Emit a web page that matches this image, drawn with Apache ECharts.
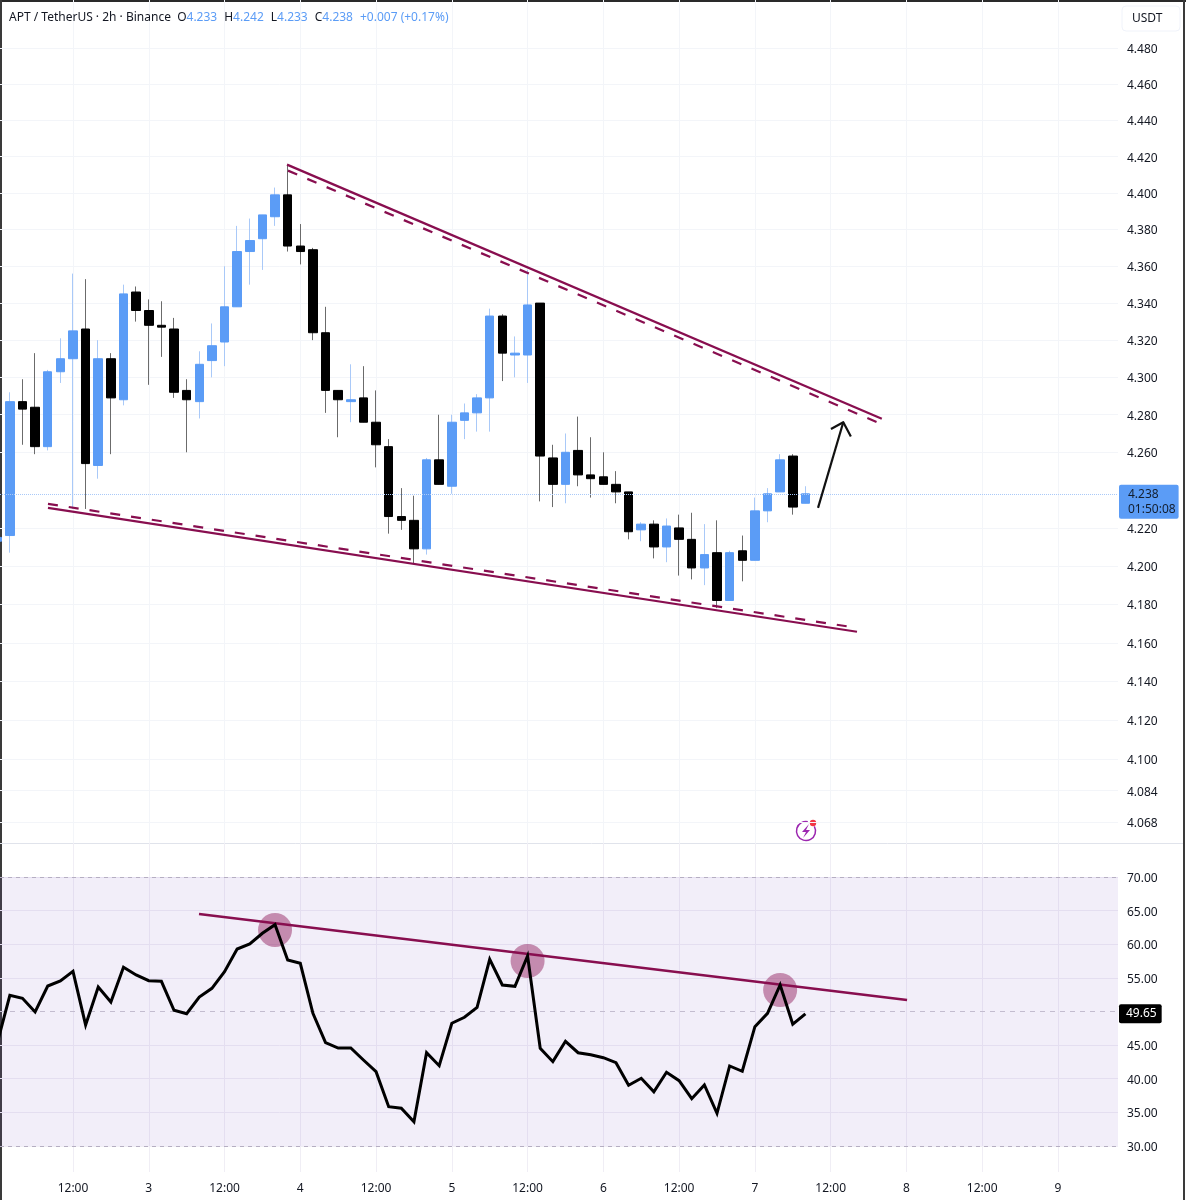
<!DOCTYPE html>
<html>
<head>
<meta charset="utf-8">
<title>APT / TetherUS 2h</title>
<style>
  html, body { margin: 0; padding: 0; background: #fff; }
  #chart { width: 1186px; height: 1200px; }
</style>
</head>
<body>
<div id="chart"></div>
<script src="https://cdn.jsdelivr.net/npm/echarts@6/dist/echarts.min.js"></script>
<script>
// one candle every 2 hours, hour 0 is the partly hidden candle on the left edge
const candleOpen = [4.213,4.216,4.287,4.284,4.263,4.303,4.310,4.326,4.253,4.310,4.288,4.346,4.336,4.328,4.326,4.293,4.287,4.309,4.319,4.338,4.368,4.375,4.387,4.399,4.371,4.369,4.324,4.293,4.287,4.289,4.276,4.263,4.226,4.224,4.209,4.256,4.242,4.277,4.281,4.289,4.333,4.312,4.312,4.340,4.257,4.243,4.261,4.248,4.247,4.243,4.239,4.219,4.222,4.210,4.220,4.214,4.199,4.207,4.182,4.208,4.203,4.229,4.239,4.258,4.233];
const candleClose = [4.215,4.287,4.283,4.263,4.303,4.310,4.325,4.254,4.310,4.289,4.345,4.336,4.328,4.327,4.292,4.288,4.307,4.317,4.338,4.368,4.374,4.388,4.399,4.371,4.368,4.324,4.293,4.288,4.288,4.276,4.264,4.226,4.224,4.209,4.256,4.243,4.276,4.281,4.289,4.333,4.313,4.313,4.339,4.258,4.243,4.260,4.248,4.246,4.243,4.239,4.218,4.222,4.210,4.221,4.214,4.199,4.206,4.182,4.207,4.203,4.229,4.238,4.256,4.231,4.238];
const candleLow = [4.208,4.207,4.264,4.259,4.261,4.297,4.230,4.230,4.246,4.259,4.285,4.330,4.296,4.311,4.289,4.260,4.278,4.300,4.306,4.338,4.350,4.358,4.382,4.368,4.361,4.320,4.281,4.268,4.276,4.276,4.252,4.217,4.219,4.201,4.206,4.243,4.238,4.267,4.271,4.271,4.298,4.300,4.297,4.234,4.231,4.233,4.242,4.236,4.243,4.233,4.214,4.213,4.204,4.202,4.195,4.193,4.190,4.178,4.182,4.192,4.203,4.223,4.239,4.227,4.233];
const candleHigh = [4.220,4.292,4.299,4.313,4.304,4.321,4.356,4.353,4.320,4.313,4.350,4.349,4.342,4.341,4.332,4.299,4.314,4.329,4.360,4.382,4.386,4.388,4.403,4.415,4.383,4.370,4.338,4.293,4.307,4.306,4.293,4.267,4.241,4.237,4.257,4.280,4.280,4.286,4.291,4.337,4.334,4.322,4.358,4.340,4.264,4.270,4.279,4.268,4.260,4.250,4.239,4.223,4.224,4.225,4.227,4.228,4.222,4.224,4.208,4.216,4.236,4.241,4.259,4.259,4.242];
const rsiValues = [45.3,52.41,51.96,49.93,53.79,54.54,55.98,48.0,53.64,51.41,56.57,55.43,54.58,54.49,50.18,49.67,52.16,53.45,55.92,59.29,60.04,61.63,62.91,57.66,57.17,49.73,45.36,44.57,44.57,42.79,41.05,35.84,35.61,33.61,43.87,41.94,48.25,49.14,50.62,57.76,53.94,53.75,58.25,44.53,42.54,45.57,43.87,43.58,43.13,42.39,39.03,40.07,38.07,40.96,39.71,37.03,39.07,34.86,41.9,41.11,47.74,49.73,53.94,48.1,49.65];

const priceTicks = [4.48,4.46,4.44,4.42,4.40,4.38,4.36,4.34,4.32,4.30,4.28,4.26,4.22,4.20,4.18,4.16,4.14,4.12,4.10,4.084,4.068];
const rsiTicks = [70,65,60,55,45,40,35,30];
const timeTicks = [12,24,36,48,60,72,84,96,108,120,132,144,156,168];
const timeLabels = ['12:00','3','12:00','4','12:00','5','12:00','6','12:00','7','12:00','8','12:00','9'];

// drawings, as [hour, price] or [hour, rsi]
const upperSolid = [[45.9,4.4156],[140.1,4.2778]];
const upperDashed = [[46.05,4.4123],[139.97,4.2751]];
const lowerSolid = [[8.04,4.2306],[136.17,4.1657]];
const lowerDashed = [[8.04,4.2327],[135.06,4.1683]];
const arrowShaft = [[130.0,4.2306],[134.0,4.2760]];
const arrowHead = [[132.05,4.2724],[134.0,4.2760],[135.2,4.2684]];
const rsiTrend = [[31.96,64.5],[144.1,51.71]];
const rsiCircles = [[44,62.12],[84,57.51],[124,53.2]];

const lastPrice = 4.238;
const lastRsi = 49.65;

const BLUE = '#5b9cf6';
const PLUM = '#880e4f';
const FONT = '"Noto Sans", sans-serif';

const hourOf = i => i * 2;
const upColor = i => candleClose[i] >= candleOpen[i];

function splitCandles(up, wickOnly) {
  const out = [];
  candleOpen.forEach((o, i) => {
    if (upColor(i) !== up) return;
    const c = candleClose[i];
    const low = wickOnly ? candleLow[i] : Math.min(o, c);
    const high = wickOnly ? candleHigh[i] : Math.max(o, c);
    out.push([hourOf(i), o, c, low, high]);
  });
  return out;
}

function candleSeries(name, up, wickOnly, color, extra) {
  return Object.assign({
    name: name,
    type: 'candlestick',
    xAxisIndex: 0,
    yAxisIndex: 0,
    barWidth: wickOnly ? 1 : 9,
    encode: { x: 0, y: [1, 2, 3, 4] },
    z: wickOnly ? 2 : 3,
    silent: true,
    itemStyle: {
      color: color, color0: color,
      borderColor: color, borderColor0: color,
      borderWidth: 1
    },
    data: splitCandles(up, wickOnly)
  }, extra || {});
}

function drawLine(points, color, width, xAxis, type, z) {
  return {
    type: 'line',
    xAxisIndex: xAxis,
    yAxisIndex: xAxis,
    data: points,
    symbol: 'none',
    silent: true,
    z: z || 5,
    lineStyle: { color: color, width: width, type: type || 'solid', cap: 'butt', join: 'round' }
  };
}

// tick label sits a little under its gridline, as on the reference
const tickRich = { t: { color: '#131722', fontSize: 12, fontFamily: FONT, padding: [3, 0, 0, 0] } };

const chart = echarts.init(document.getElementById('chart'));

chart.setOption({
  animation: false,
  backgroundColor: '#fff',
  textStyle: { fontFamily: FONT },
  title: {
    left: 9, top: 12, padding: 0,
    text: '{k|APT / TetherUS · 2h · Binance  O}{v|4.233}{g| }{k|H}{v|4.242}{g| }{k|L}{v|4.233}{g| }{k|C}{v|4.238}{g| }{v|+0.007 (+0.17%)}',
    textStyle: {
      fontFamily: FONT, fontWeight: 'normal', fontSize: 12,
      rich: {
        k: { color: '#131722', fontSize: 12, fontFamily: FONT },
        v: { color: BLUE, fontSize: 12, fontFamily: FONT },
        g: { width: 7, fontSize: 12 }
      }
    }
  },
  grid: [
    { left: 0, width: 1118, top: 0, height: 843 },
    { left: 0, width: 1118, top: 843, height: 329 }
  ],
  xAxis: [0, 1].map(i => ({
    type: 'value',
    gridIndex: i,
    min: 0.44,
    max: 177.51,
    axisLine: { show: false },
    axisTick: { show: false, customValues: timeTicks },
    splitLine: { show: true, lineStyle: { color: i === 0 ? '#f3f5f9' : '#f0eef5', width: 1 } },
    axisLabel: {
      show: i === 1,
      customValues: timeTicks,
      margin: 11,
      color: '#131722',
      fontSize: 12,
      fontFamily: FONT,
      formatter: v => timeLabels[timeTicks.indexOf(v)] || ''
    }
  })),
  yAxis: [
    {
      type: 'log',
      gridIndex: 0,
      position: 'right',
      min: 4.0574,
      max: 4.5072,
      axisLine: { show: false },
      axisTick: { show: false, customValues: priceTicks },
      splitLine: { show: true, lineStyle: { color: '#f3f5f9', width: 1 } },
      axisLabel: {
        customValues: priceTicks,
        margin: 9,
        rich: tickRich,
        formatter: v => '{t|' + Number(v).toFixed(3) + '}'
      }
    },
    {
      type: 'value',
      gridIndex: 1,
      position: 'right',
      min: 26.13,
      max: 75.06,
      axisLine: { show: false },
      axisTick: { show: false, customValues: rsiTicks },
      splitLine: { show: true, lineStyle: { color: '#f0eef5', width: 1 } },
      axisLabel: {
        customValues: rsiTicks,
        margin: 9,
        rich: tickRich,
        formatter: v => '{t|' + Number(v).toFixed(2) + '}'
      }
    }
  ],
  series: [
    candleSeries('up wick', true, true, '#a9c9f8'),
    candleSeries('down wick', false, true, '#6b6b6b'),
    candleSeries('up body', true, false, BLUE, {
      markLine: {
        silent: true,
        symbol: 'none',
        precision: 3,
        lineStyle: { color: '#a9c9f8', width: 1, type: 'dotted' },
        label: {
          position: 'end',
          distance: 1,
          offset: [0, 8],
          formatter: '4.238\n01:50:08',
          color: '#131e2e',
          backgroundColor: BLUE,
          borderRadius: 2,
          padding: [2, 3, 2, 9],
          lineHeight: 15,
          fontSize: 12,
          fontFamily: FONT
        },
        data: [{ yAxis: lastPrice }]
      }
    }),
    candleSeries('down body', false, false, '#000000'),
    drawLine(upperSolid, PLUM, 2.2),
    drawLine(upperDashed, PLUM, 2.2, 0, [10, 11]),
    drawLine(lowerSolid, PLUM, 2.2),
    drawLine(lowerDashed, PLUM, 2.2, 0, [10, 11]),
    drawLine(arrowShaft, '#111111', 2.2),
    drawLine(arrowHead, '#111111', 2.2),
    {
      type: 'line',
      name: 'RSI',
      xAxisIndex: 1,
      yAxisIndex: 1,
      data: rsiValues.map((v, i) => [hourOf(i), v]),
      symbol: 'none',
      silent: true,
      z: 6,
      lineStyle: { color: '#000', width: 3, join: 'miter' },
      markArea: {
        silent: true,
        itemStyle: { color: 'rgba(126,87,194,0.1)' },
        data: [[{ yAxis: 70 }, { yAxis: 30 }]]
      },
      markLine: {
        silent: true,
        symbol: 'none',
        animation: false,
        lineStyle: { color: '#b5aec2', width: 1, type: [4, 4] },
        label: { show: false },
        data: [
          { yAxis: 70 },
          { yAxis: 30 },
          {
            yAxis: 50,
            lineStyle: { color: '#c3bccf', width: 1, type: [5, 5] }
          },
          {
            yAxis: lastRsi,
            lineStyle: { color: 'transparent' },
            label: {
              show: true,
              position: 'end',
              distance: 1,
              formatter: '49.65',
              color: '#fff',
              backgroundColor: '#000',
              borderRadius: 2,
              padding: [4, 5, 3, 7],
              fontSize: 12,
              fontFamily: FONT
            }
          }
        ]
      }
    },
    drawLine(rsiTrend, PLUM, 2.5, 1, 'solid', 5),
    {
      type: 'scatter',
      xAxisIndex: 1,
      yAxisIndex: 1,
      data: rsiCircles,
      symbol: 'circle',
      symbolSize: 34,
      silent: true,
      z: 4,
      itemStyle: { color: 'rgba(136,14,79,0.55)' }
    }
  ],
  graphic: [
    // frame of the screenshot
    { type: 'rect', silent: true, shape: { x: 0, y: 0, width: 1186, height: 2 }, style: { fill: '#2a2a2a' } },
    { type: 'rect', silent: true, shape: { x: 0, y: 0, width: 2, height: 1200 }, style: { fill: '#3a3a3a' } },
    { type: 'rect', silent: true, shape: { x: 1183, y: 0, width: 2, height: 1200 }, style: { fill: '#3a3a3a' } },
    { type: 'line', silent: true, shape: { x1: 0, y1: 843.5, x2: 1183, y2: 843.5 }, style: { stroke: '#e0e3eb', lineWidth: 1 } },
    // currency button
    { type: 'rect', silent: true, shape: { x: 1122, y: 6, width: 58, height: 25, r: 4 }, style: { fill: '#fff', stroke: '#f0f3fa' } },
    { type: 'text', silent: true, style: { x: 1132, y: 13, text: 'USDT', fill: '#131722', font: '12px ' + FONT } },
    // lightning badge
    { type: 'arc', silent: true, shape: { cx: 806, cy: 831, r: 9.5, startAngle: -0.5, endAngle: 4.9, clockwise: true }, style: { stroke: '#9c27b0', fill: 'none', lineWidth: 1.5 } },
    { type: 'polygon', silent: true, shape: { points: [[809, 824], [802, 832], [806, 832], [803, 838], [810, 830], [806, 830]] }, style: { fill: '#9c27b0' } },
    { type: 'circle', silent: true, shape: { cx: 813, cy: 823, r: 3.2 }, style: { fill: '#f23645' } }
  ]
});
</script>
</body>
</html>
